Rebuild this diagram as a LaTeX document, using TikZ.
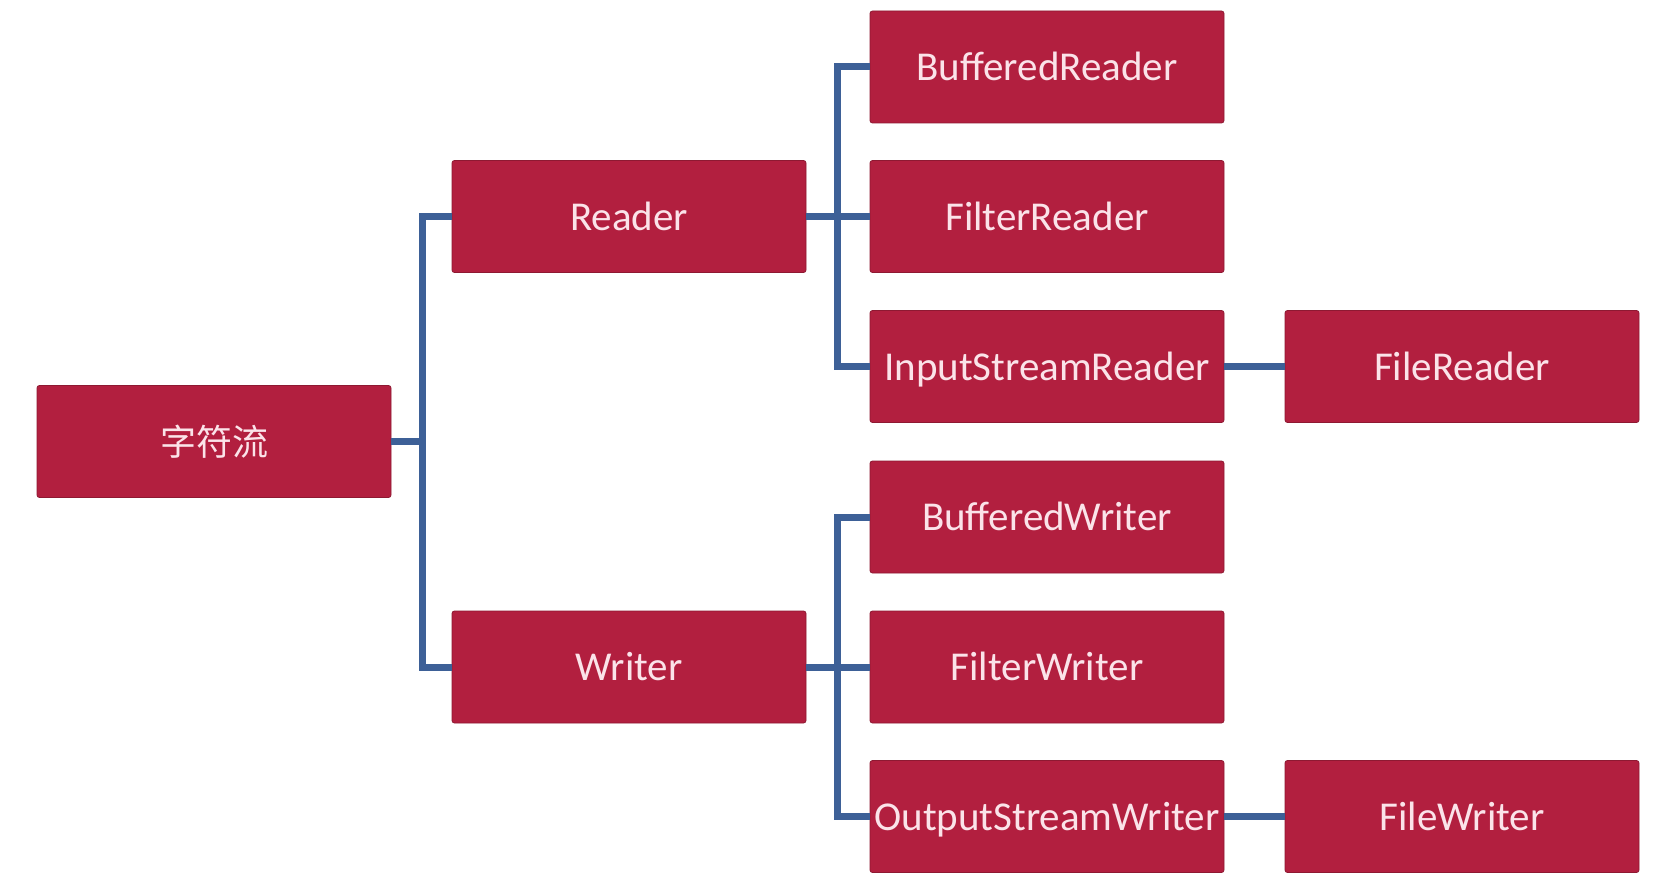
\documentclass[tikz,border=0pt]{standalone}
\usepackage{fontspec}
\setmainfont{Carlito}
\newfontfamily\cjk{Noto Sans CJK SC}
\definecolor{boxred}{HTML}{B21F3F}
\definecolor{linkblue}{HTML}{3D6097}
\definecolor{txtpink}{HTML}{FBE3E9}
\begin{document}
\begin{tikzpicture}[x=1pt,y=-1pt,
  box/.style={fill=boxred, draw=boxred!80!black, line width=0.8pt, rounded corners=2.5pt,
    minimum width=354pt, minimum height=112pt, inner sep=0pt, text=txtpink,
    text height=34pt, text depth=7pt,
    font=\fontsize{41}{48}\selectfont},
  link/.style={draw=linkblue, line width=7pt, line join=miter}]
\useasboundingbox[fill=white] (0,0) rectangle (1668,888);
% nodes
\node[box] (root) at (214,441.5) {\cjk\fontsize{36}{42}\selectfont 字符流};
\node[box] (reader) at (629,216.5) {Reader};
\node[box] (writer) at (629,667) {Writer};
\node[box] (bufr) at (1047,67) {BufferedReader};
\node[box] (filtr) at (1047,216.5) {FilterReader};
\node[box] (isr) at (1047,366.5) {InputStreamReader};
\node[box] (bufw) at (1047,517) {BufferedWriter};
\node[box] (filtw) at (1047,667) {FilterWriter};
\node[box] (osw) at (1047,816.5) {OutputStreamWriter};
\node[box] (filer) at (1462,366.5) {FileReader};
\node[box] (filew) at (1462,816.5) {FileWriter};
% junctions
\coordinate (ja) at (422,441.5);
\coordinate (jb) at (837,216.5);
\coordinate (jc) at (837,667);
% connectors
\draw[link] (root.east) -- (ja);
\draw[link] (reader.west) -| (ja) |- (writer.west);
\draw[link] (reader.east) -- (filtr.west);
\draw[link] (bufr.west) -| (jb) |- (isr.west);
\draw[link] (writer.east) -- (filtw.west);
\draw[link] (bufw.west) -| (jc) |- (osw.west);
\draw[link] (isr.east) -- (filer.west);
\draw[link] (osw.east) -- (filew.west);
\end{tikzpicture}
\end{document}
